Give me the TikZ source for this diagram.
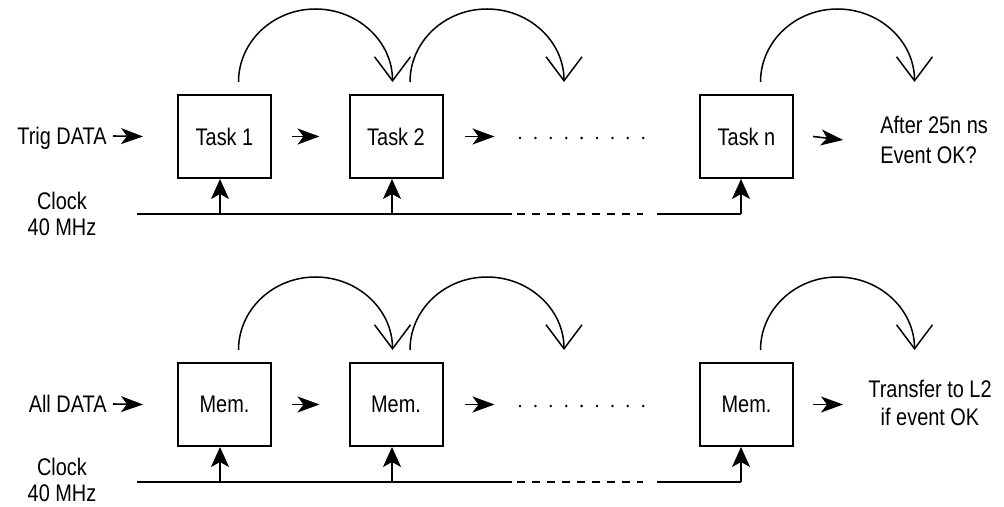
\documentclass[tikz,border=0pt]{standalone}
\usepackage{fontspec}
\setmainfont{Liberation Sans}[FakeStretch=0.83]
\usepackage{tikz}
\usetikzlibrary{arrows.meta}

\begin{document}
\begin{tikzpicture}[
  x=0.5pt, y=0.5pt,
  font=\fontsize{12}{15}\selectfont,
  stage/.style={draw, line width=1pt, minimum width=46.5pt, minimum height=41.5pt, inner sep=0pt},
  lbl/.style={inner sep=0pt, text height=8.6pt, text depth=0pt},
  feed/.style={-{Stealth[length=11pt, width=8pt, inset=3pt]}, line width=0.8pt},
  tick/.style={-{Stealth[length=10pt, width=9pt, inset=2.5pt]}, line width=0.8pt},
  hop/.style={-{Straight Barb[length=12pt, width=18pt]}, line width=0.75pt},
  clk/.style={line width=1pt}
]
  \useasboundingbox (0,0) rectangle (1004,-507);

  % trigger row
  \node[stage] (t1) at (224.5,-136.5) {Task 1};
  \node[stage] (t2) at (396,-136.5) {Task 2};
  \node[stage] (tn) at (746.5,-136.5) {Task n};
  \node[lbl, anchor=east] (trig) at (107,-136) {Trig DATA};
  \node[align=center, font=\fontsize{12}{13}\selectfont] (clka) at (62,-214) {Clock\\40 MHz};
  \node[align=left, anchor=west, inner sep=0pt] (outa) at (880,-140) {After 25n ns\\Event OK?};
  \draw[feed] ([xshift=3pt]trig.east) -- ([xshift=-17pt]t1.west);
  \draw[feed] ([xshift=10pt]t1.east) -- ([xshift=-14.5pt]t2.west);
  \draw[feed] ([xshift=10.5pt]t2.east) -- ++(30,0);
  \draw[feed] ([xshift=9.5pt]tn.east) -- ([xshift=-18.5pt]outa.west);
  \foreach \k in {0,...,8}
    \fill (520+15.4*\k,-138) circle (0.7pt);
  \draw[hop] ([xshift=7pt, yshift=6pt]t1.north) arc[start angle=180, end angle=0, x radius=38.5pt, y radius=36.5pt];
  \draw[hop] ([xshift=7pt, yshift=6pt]t2.north) arc[start angle=180, end angle=0, x radius=38.5pt, y radius=36.5pt];
  \draw[hop] ([xshift=7pt, yshift=6pt]tn.north) arc[start angle=180, end angle=0, x radius=38.5pt, y radius=36.5pt];
  % clock
  \coordinate (ka0) at (137,-214);
  \coordinate (ka1) at (512,-214);
  \coordinate (ka2) at (643,-214);
  \coordinate (ka3) at (657,-214);
  \coordinate (kan) at (741,-214);
  \draw[clk] (ka0) -- (ka1);
  \draw[clk, dash pattern=on 4pt off 3.5pt] ([xshift=2.5pt]ka1) -- (ka2);
  \draw[clk] (ka3) -- (kan);
  \draw[tick] ([xshift=-2.25pt]t1.south |- ka0) -- ([xshift=-2.25pt]t1.south);
  \draw[tick] ([xshift=-2pt]t2.south |- ka0) -- ([xshift=-2pt]t2.south);
  \draw[tick] (kan) -- (kan |- tn.south);

  % memory row
  \node[stage] (m1) at (224.5,-404.5) {Mem.};
  \node[stage] (m2) at (396,-404.5) {Mem.};
  \node[stage] (mn) at (746.5,-404.5) {Mem.};
  \node[lbl, anchor=east] (alld) at (107,-404) {All DATA};
  \node[align=center, font=\fontsize{12}{13}\selectfont] (clkb) at (62,-480) {Clock\\40 MHz};
  \node[align=center, font=\fontsize{12}{14}\selectfont] (outb) at (930,-403) {Transfer to L2\\if event OK};
  \draw[feed] ([xshift=3pt]alld.east) -- ([xshift=-17pt]m1.west);
  \draw[feed] ([xshift=10pt]m1.east) -- ([xshift=-14.5pt]m2.west);
  \draw[feed] ([xshift=10.5pt]m2.east) -- ++(30,0);
  \draw[feed] ([xshift=9.5pt]mn.east) -- ++(30,0);
  \foreach \k in {0,...,8}
    \fill (520+15.4*\k,-406) circle (0.7pt);
  \draw[hop] ([xshift=7pt, yshift=6pt]m1.north) arc[start angle=180, end angle=0, x radius=38.5pt, y radius=36.5pt];
  \draw[hop] ([xshift=7pt, yshift=6pt]m2.north) arc[start angle=180, end angle=0, x radius=38.5pt, y radius=36.5pt];
  \draw[hop] ([xshift=7pt, yshift=6pt]mn.north) arc[start angle=180, end angle=0, x radius=38.5pt, y radius=36.5pt];
  % clock
  \coordinate (kb0) at (137,-482);
  \coordinate (kb1) at (512,-482);
  \coordinate (kb2) at (643,-482);
  \coordinate (kb3) at (657,-482);
  \coordinate (kbn) at (741,-482);
  \draw[clk] (kb0) -- (kb1);
  \draw[clk, dash pattern=on 4pt off 3.5pt] ([xshift=2.5pt]kb1) -- (kb2);
  \draw[clk] (kb3) -- (kbn);
  \draw[tick] ([xshift=-2.25pt]m1.south |- kb0) -- ([xshift=-2.25pt]m1.south);
  \draw[tick] ([xshift=-2pt]m2.south |- kb0) -- ([xshift=-2pt]m2.south);
  \draw[tick] (kbn) -- (kbn |- mn.south);

\end{tikzpicture}
\end{document}
